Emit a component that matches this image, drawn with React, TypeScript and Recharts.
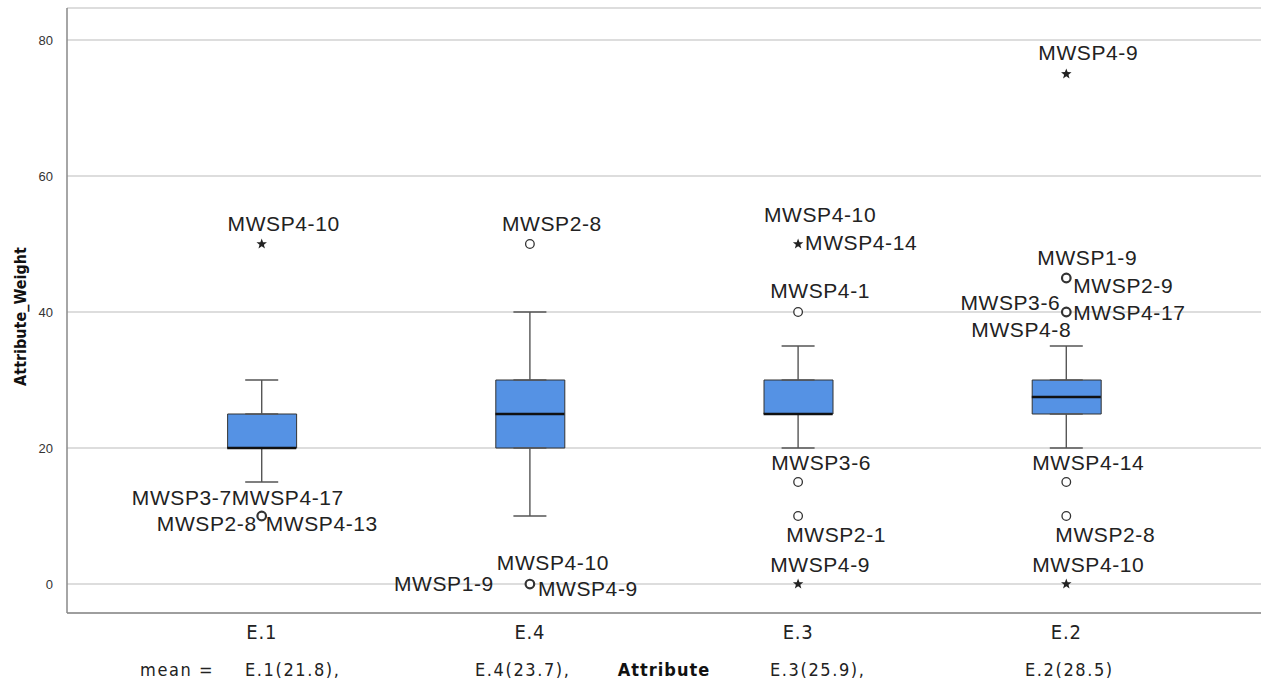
import React from 'react';
import { ComposedChart, Bar, Scatter, ErrorBar, XAxis, YAxis, CartesianGrid } from 'recharts';

const categories = ['E.1', 'E.4', 'E.3', 'E.2'];
const lowerWhisker = [15, 10, 20, 20];
const firstQuartile = [20, 20, 25, 25];
const medians = [20, 25, 25, 27.5];
const thirdQuartile = [25, 30, 30, 30];
const upperWhisker = [30, 40, 35, 35];
const means = [21.8, 23.7, 25.9, 28.5];
const yTicks = [0, 20, 40, 60, 80];

// outlying cases, circle = outlier, star = extreme
const outliers = [
  { cat: 'E.1', value: 50, kind: 'star', labels: ['MWSP4-10'] },
  { cat: 'E.1', value: 10, kind: 'circle', labels: ['MWSP3-7', 'MWSP4-17', 'MWSP2-8', 'MWSP4-13'] },
  { cat: 'E.4', value: 50, kind: 'circle', labels: ['MWSP2-8'] },
  { cat: 'E.4', value: 0, kind: 'circle', labels: ['MWSP4-10', 'MWSP1-9', 'MWSP4-9'] },
  { cat: 'E.3', value: 50, kind: 'star', labels: ['MWSP4-10', 'MWSP4-14'] },
  { cat: 'E.3', value: 40, kind: 'circle', labels: ['MWSP4-1'] },
  { cat: 'E.3', value: 15, kind: 'circle', labels: ['MWSP3-6'] },
  { cat: 'E.3', value: 10, kind: 'circle', labels: ['MWSP2-1'] },
  { cat: 'E.3', value: 0, kind: 'star', labels: ['MWSP4-9'] },
  { cat: 'E.2', value: 75, kind: 'star', labels: ['MWSP4-9'] },
  { cat: 'E.2', value: 45, kind: 'circle', labels: ['MWSP1-9', 'MWSP2-9'] },
  { cat: 'E.2', value: 40, kind: 'circle', labels: ['MWSP3-6', 'MWSP4-17', 'MWSP4-8'] },
  { cat: 'E.2', value: 15, kind: 'circle', labels: ['MWSP4-14'] },
  { cat: 'E.2', value: 10, kind: 'circle', labels: ['MWSP2-8'] },
  { cat: 'E.2', value: 0, kind: 'star', labels: ['MWSP4-10'] },
];

// where each case label sits next to its marker: [anchor, dx, dy]
const labelPlacement: [string, number, number][][] = [
  [['middle', 22, -20]],
  [['end', -30, -19], ['start', -30, -19], ['end', -5, 7], ['start', 4, 7]],
  [['middle', 22, -20]],
  [['middle', 23, -22], ['end', -36, -1], ['start', 8, 4]],
  [['middle', 22, -29], ['start', 7, -1]],
  [['middle', 22, -21]],
  [['middle', 23, -20]],
  [['middle', 38, 18]],
  [['middle', 22, -20]],
  [['middle', 22, -21]],
  [['middle', 21, -20], ['start', 7, 8]],
  [['end', -6, -9], ['start', 7, 1], ['middle', -45, 18]],
  [['middle', 22, -20]],
  [['middle', 39, 18]],
  [['middle', 22, -20]],
];

const sans = "'Liberation Sans', Arial, sans-serif";
const narrow = "'Liberation Sans Narrow', 'DejaVu Sans Condensed', 'Liberation Sans', sans-serif";

const boxRows = categories.map((c, i) => ({ x: i, box: [firstQuartile[i], thirdQuartile[i]] }));
const upperRows = categories.map((c, i) => ({
  x: i,
  y: thirdQuartile[i],
  err: [0, upperWhisker[i] - thirdQuartile[i]],
}));
const lowerRows = categories.map((c, i) => ({
  x: i,
  y: firstQuartile[i],
  err: [firstQuartile[i] - lowerWhisker[i], 0],
}));
const medianRows = categories.map((c, i) => ({ x: i, y: medians[i] }));
const outlierRows = outliers.map((o, k) => ({
  x: categories.indexOf(o.cat),
  y: o.value,
  kind: o.kind,
  labels: o.labels,
  place: labelPlacement[k],
}));

const Nothing = () => <g />;

const MedianLine = (props: any) => {
  const { cx, cy } = props;
  return <line x1={cx - 34.5} x2={cx + 34.5} y1={cy} y2={cy} stroke="#111" strokeWidth={2.5} />;
};

const starPath = (cx: number, cy: number, R: number, r: number) => {
  const pts: string[] = [];
  for (let k = 0; k < 10; k++) {
    const rad = k % 2 === 0 ? R : r;
    const a = -Math.PI / 2 + (k * Math.PI) / 5;
    pts.push(`${cx + rad * Math.cos(a)},${cy + rad * Math.sin(a)}`);
  }
  return 'M' + pts.join('L') + 'Z';
};

const OutlierMark = (props: any) => {
  const { cx, cy, payload } = props;
  const many = payload.labels.length > 1;
  return (
    <g>
      {payload.kind === 'star' ? (
        <path d={starPath(cx, cy, 5.5, 2.3)} fill="#222" />
      ) : (
        <circle cx={cx} cy={cy} r={4.3} fill="#fff" stroke="#333" strokeWidth={many ? 2.2 : 1.3} />
      )}
      {payload.labels.map((t: string, j: number) => {
        const [anchor, dx, dy] = payload.place[j];
        return (
          <text
            key={t + j}
            x={cx + dx}
            y={cy + dy}
            textAnchor={anchor}
            dominantBaseline="central"
            fontFamily={sans}
            fontSize={21}
            letterSpacing={0.6}
            fill="#222"
          >
            {t}
          </text>
        );
      })}
    </g>
  );
};

const YTitle = (props: any) => {
  const vb = props.viewBox || {};
  const cy = (vb.y || 0) + (vb.height || 0) / 2 + 6;
  return (
    <text
      x={20}
      y={cy}
      transform={`rotate(-90, 20, ${cy})`}
      textAnchor="middle"
      dominantBaseline="central"
      fontFamily={narrow}
      fontWeight="bold"
      fontSize={16}
      fill="#111"
    >
      Attribute_Weight
    </text>
  );
};

const meanStarts = [245, 475, 770, 1025];

const Footer = () => (
  <g fontFamily={narrow} fontSize={18} letterSpacing={1.6} fill="#222">
    <text x={140} y={676}>mean =</text>
    {categories.map((c, i) => (
      <text key={c} x={meanStarts[i]} y={676}>
        {`${c}(${means[i]})${i < categories.length - 1 ? ',' : ''}`}
      </text>
    ))}
    <text x={664} y={676} textAnchor="middle" fontWeight="bold" fill="#111" letterSpacing={1}>
      Attribute
    </text>
  </g>
);

export default function App() {
  return (
    <div style={{ position: 'absolute', left: 0, top: 0, background: '#fff' }}>
      <ComposedChart
        width={1280}
        height={681}
        data={boxRows}
        margin={{ top: 8, right: 19, bottom: 0, left: 0 }}
      >
        <CartesianGrid vertical={false} stroke="#d2d2d2" strokeWidth={1.5} />
        <XAxis
          type="number"
          dataKey="x"
          domain={[-0.726, 3.726]}
          ticks={[0, 1, 2, 3]}
          tickFormatter={(i: number) => categories[i]}
          allowDataOverflow
          height={68}
          axisLine={{ stroke: '#888', strokeWidth: 1.5 }}
          tickLine={false}
          tickMargin={6}
          tick={{ fontSize: 20, fontFamily: narrow, fill: '#222', letterSpacing: 0.8 }}
          label={<Footer />}
        />
        <YAxis
          type="number"
          domain={[-4.26, 84.7]}
          ticks={yTicks}
          allowDataOverflow
          width={67}
          axisLine={{ stroke: '#888', strokeWidth: 1.5 }}
          tickLine={false}
          tickMargin={8}
          tick={{ fontSize: 13, fontFamily: sans, fill: '#333' }}
          label={<YTitle />}
        />
        <Scatter data={upperRows} dataKey="y" shape={Nothing} isAnimationActive={false}>
          <ErrorBar dataKey="err" direction="y" width={16.5} stroke="#555" strokeWidth={1.4} isAnimationActive={false} />
        </Scatter>
        <Scatter data={lowerRows} dataKey="y" shape={Nothing} isAnimationActive={false}>
          <ErrorBar dataKey="err" direction="y" width={16.5} stroke="#555" strokeWidth={1.4} isAnimationActive={false} />
        </Scatter>
        <Bar dataKey="box" barSize={69} fill="#5592e4" stroke="#333" strokeWidth={1} isAnimationActive={false} />
        <Scatter data={medianRows} dataKey="y" shape={MedianLine} isAnimationActive={false} />
        <Scatter data={outlierRows} dataKey="y" shape={OutlierMark} isAnimationActive={false} />
      </ComposedChart>
    </div>
  );
}
